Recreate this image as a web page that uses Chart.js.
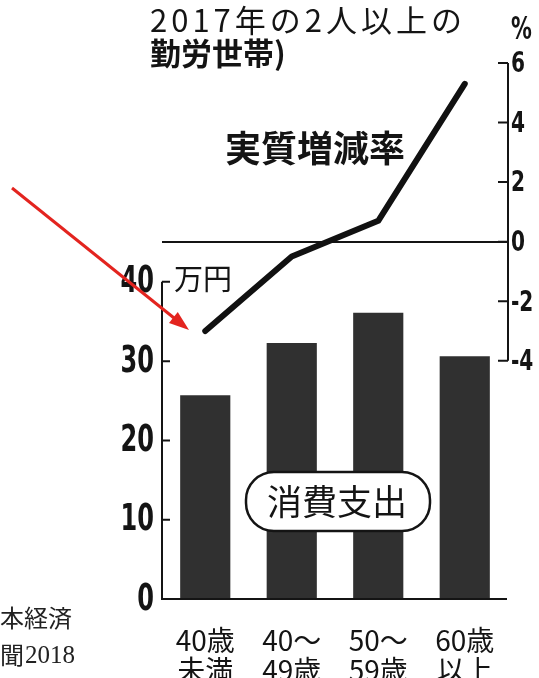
<!DOCTYPE html>
<html lang="ja">
<head>
<meta charset="utf-8">
<title>消費支出と実質増減率</title>
<script src="https://cdn.jsdelivr.net/npm/chart.js@4/dist/chart.umd.min.js"></script>
<style>
  html, body { margin: 0; padding: 0; background: #fff; }
  canvas { display: block; }
</style>
</head>
<body>
<canvas id="spendChart" width="539" height="678"></canvas>
<script>
const ageGroups = [["40歳", "未満"], ["40～", "49歳"], ["50～", "59歳"], ["60歳", "以上"]];
const spending = [25.7, 32.3, 36.1, 30.6];   // 消費支出, 万円
const realChange = [-3.0, -0.5, 0.7, 5.3];   // 実質増減率, %
const spendTicks = [0, 10, 20, 30, 40];
const changeTicks = [-4, -2, 0, 2, 4, 6];

const boldSans = '"DejaVu Sans", sans-serif';
const gothic = '"Noto Sans CJK JP", "Noto Sans", sans-serif';
const serif = '"Liberation Serif", "Noto Sans CJK JP", serif';
const ink = "#141414";

// the print uses condensed figures, so squeeze them horizontally
function squeezeText(ctx, text, x, y, squeeze) {
  const w = ctx.measureText(text).width;
  ctx.fillText(text, x, y, w * squeeze);
}

// axis lines, inward ticks and the printed labels
const decorations = {
  id: "decorations",
  afterDraw(chart) {
    const { ctx, chartArea: area, scales } = chart;
    const y = scales.y;
    const y2 = scales.y2;
    ctx.save();
    ctx.strokeStyle = ink;
    ctx.fillStyle = ink;
    ctx.lineWidth = 2;

    const yTop = y.getPixelForValue(spendTicks[spendTicks.length - 1]);
    const yZero = y.getPixelForValue(0);
    ctx.beginPath();
    ctx.moveTo(area.left, yTop);
    ctx.lineTo(area.left, yZero);
    ctx.lineTo(area.right - 1, yZero);
    y.ticks.forEach((t, i) => {
      const p = y.getPixelForTick(i);
      ctx.moveTo(area.left, p);
      ctx.lineTo(area.left + 8, p);
    });
    const rTop = y2.getPixelForValue(changeTicks[changeTicks.length - 1]);
    const rBottom = y2.getPixelForValue(changeTicks[0]);
    ctx.moveTo(area.right, rTop);
    ctx.lineTo(area.right, rBottom);
    y2.ticks.forEach((t, i) => {
      const p = y2.getPixelForTick(i);
      ctx.moveTo(area.right, p);
      ctx.lineTo(area.right - 10, p);
    });
    ctx.stroke();

    ctx.textBaseline = "middle";
    ctx.textAlign = "right";
    ctx.font = "bold 37px " + boldSans;
    y.ticks.forEach((t, i) => {
      squeezeText(ctx, String(t.value), area.left - 8, y.getPixelForTick(i) + 1, 0.65);
    });
    ctx.textAlign = "left";
    ctx.font = "bold 28px " + boldSans;
    y2.ticks.forEach((t, i) => {
      squeezeText(ctx, String(t.value), area.right + 3, y2.getPixelForTick(i) + 2, 0.72);
    });
    ctx.font = "bold 32px " + boldSans;
    squeezeText(ctx, "%", 511, 31, 0.65);

    ctx.font = "29px " + gothic;
    ctx.fillText("万円", 174, yTop - 3);

    ctx.font = "31px " + gothic;
    ctx.letterSpacing = "4px";
    ctx.fillText("2017年の2人以上の", 150, 20);
    ctx.letterSpacing = "0px";
    ctx.font = "bold 31px " + gothic;
    ctx.fillText("勤労世帯)", 150, 53);

    ctx.font = "bold 36px " + gothic;
    ctx.fillText("実質増減率", 225, 148);

    // 消費支出 label in a pill over the bars
    ctx.beginPath();
    ctx.roundRect(246, 472, 184, 59, 28);
    ctx.fillStyle = "#fff";
    ctx.fill();
    ctx.lineWidth = 2.5;
    ctx.stroke();
    ctx.fillStyle = ink;
    ctx.textAlign = "center";
    ctx.font = "35px " + gothic;
    ctx.fillText("消費支出", 337, 502);

    // source note, cut off at the left edge
    ctx.textAlign = "left";
    ctx.fillStyle = "#222";
    ctx.font = "24px " + gothic;
    ctx.fillText("本経済", 0, 618);
    ctx.fillText("聞", 0, 655);
    ctx.fillText("月", 10, 688);
    ctx.fillText("日", 60, 688);
    ctx.font = "25px " + serif;
    ctx.fillText("2018", 25, 656);

    // red arrow
    const tail = [12, 188];
    const tip = [189, 330];
    const ang = Math.atan2(tip[1] - tail[1], tip[0] - tail[0]);
    ctx.strokeStyle = "#e3241f";
    ctx.fillStyle = "#e3241f";
    ctx.lineWidth = 3;
    ctx.beginPath();
    ctx.moveTo(tail[0], tail[1]);
    ctx.lineTo(tip[0] - 12 * Math.cos(ang), tip[1] - 12 * Math.sin(ang));
    ctx.stroke();
    ctx.beginPath();
    ctx.moveTo(tip[0], tip[1]);
    ctx.lineTo(tip[0] - 20 * Math.cos(ang) + 7 * Math.sin(ang), tip[1] - 20 * Math.sin(ang) - 7 * Math.cos(ang));
    ctx.lineTo(tip[0] - 20 * Math.cos(ang) - 7 * Math.sin(ang), tip[1] - 20 * Math.sin(ang) + 7 * Math.cos(ang));
    ctx.closePath();
    ctx.fill();
    ctx.restore();
  },
};

const ctx = document.getElementById("spendChart").getContext("2d");
new Chart(ctx, {
  type: "bar",
  data: {
    labels: ageGroups,
    datasets: [
      {
        label: "消費支出",
        data: spending,
        yAxisID: "y",
        backgroundColor: "#303030",
        categoryPercentage: 1,
        barPercentage: 0.58,
        order: 2,
      },
      {
        type: "line",
        label: "実質増減率",
        data: realChange,
        yAxisID: "y2",
        borderColor: "#111",
        borderWidth: 6,
        borderCapStyle: "round",
        borderJoinStyle: "round",
        pointRadius: 0,
        tension: 0,
        fill: false,
        order: 1,
      },
    ],
  },
  options: {
    responsive: false,
    devicePixelRatio: 1,
    animation: false,
    layout: { padding: { top: 63, left: 0, right: 0, bottom: 0 } },
    plugins: { legend: { display: false }, tooltip: { enabled: false } },
    scales: {
      x: {
        offset: true,
        grid: { display: false, drawTicks: false },
        border: { display: false },
        ticks: {
          color: ink,
          padding: 26,
          autoSkip: false,
          maxRotation: 0,
          font: { family: gothic, size: 28, lineHeight: 1.07 },
        },
        afterFit: (scale) => { scale.height = 79; },
      },
      y: {
        position: "left",
        min: 0,
        max: 67.6,
        grid: { display: false, drawTicks: false },
        border: { display: false },
        ticks: { display: false },
        afterBuildTicks: (scale) => { scale.ticks = spendTicks.map((v) => ({ value: v })); },
        afterFit: (scale) => { scale.width = 162; },
      },
      y2: {
        position: "right",
        min: -12,
        max: 6,
        grid: {
          drawTicks: false,
          lineWidth: 2,
          color: (c) => (c.tick && c.tick.value === 0 ? ink : "rgba(0,0,0,0)"),
        },
        border: { display: false },
        ticks: { display: false },
        afterBuildTicks: (scale) => { scale.ticks = changeTicks.map((v) => ({ value: v })); },
        afterFit: (scale) => { scale.width = 31; },
      },
    },
  },
  plugins: [decorations],
});
</script>
</body>
</html>
